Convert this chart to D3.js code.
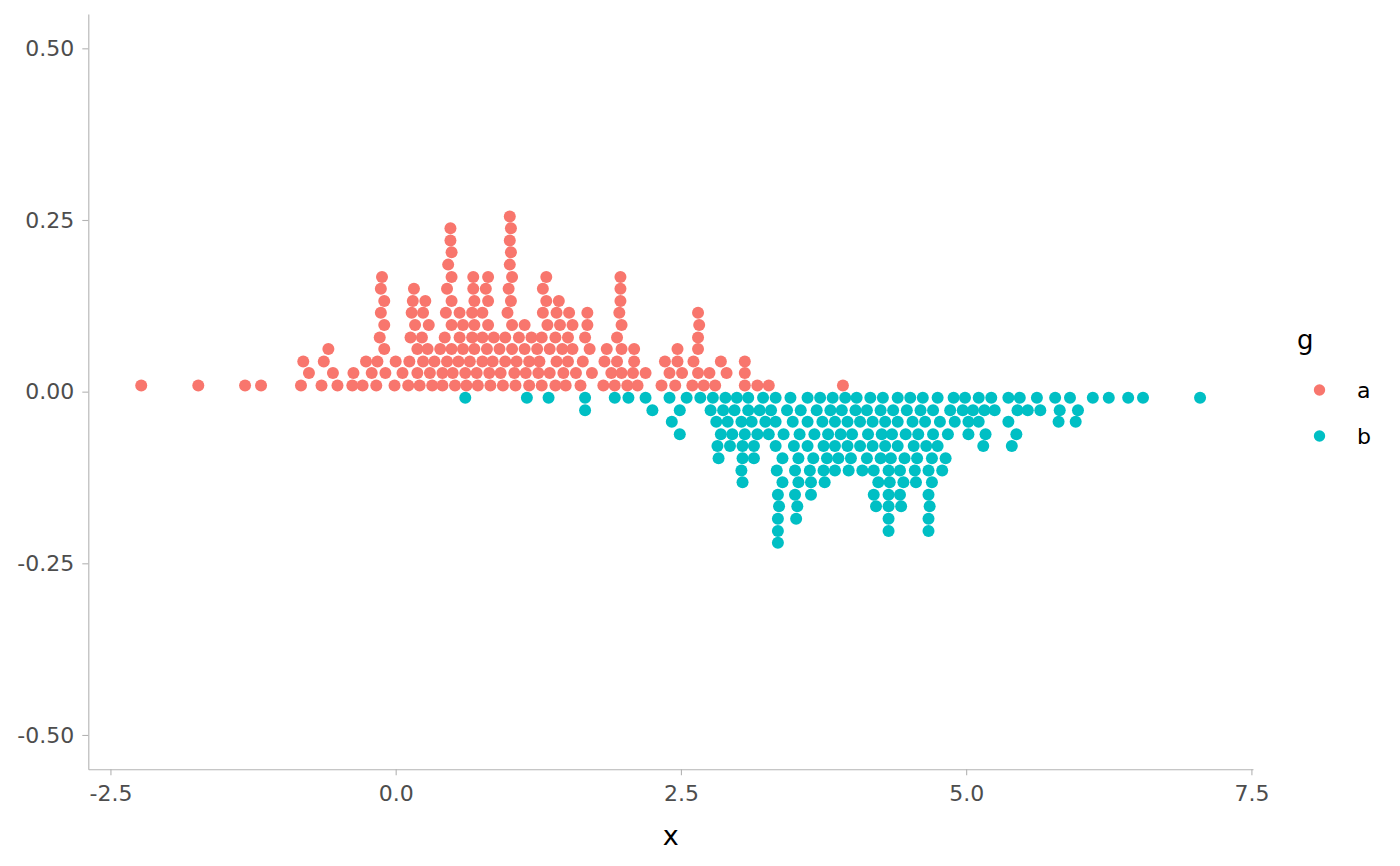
<!DOCTYPE html>
<html>
<head>
<meta charset="utf-8">
<script src="https://cdn.jsdelivr.net/npm/d3@7"></script>
<style>
  body { margin: 0; background: #fff; }
  svg { display: block; }
  text { font-family: "DejaVu Sans", sans-serif; }
</style>
</head>
<body>
<div class="chart"></div>
<script>
// groups and their colours (ggplot default hue palette)
const groups = ["a", "b"]
const colors = ["#F8766D", "#00BFC4"]

const xTicks = [-2.5, 0, 2.5, 5, 7.5]
const yTicks = [-0.5, -0.25, 0, 0.25, 0.5]

// swarm rows of group a: y offset of each row, and the x values sitting in it
const aLevelY = [0.009, 0.027, 0.044, 0.062, 0.079, 0.097, 0.115, 0.132, 0.150, 0.167, 0.185, 0.203, 0.220, 0.238, 0.255]
const aLevelX = [
    [-2.23, -1.73, -1.32, -1.18, -0.83, -0.65, -0.51, -0.38, -0.29, -0.17, -0.01, 0.11, 0.21, 0.32, 0.41, 0.52, 0.62, 0.72, 0.83, 0.94, 1.05, 1.17, 1.28, 1.40, 1.49, 1.62, 1.82, 1.92, 2.03, 2.12, 2.33, 2.45, 2.60, 2.70, 2.80, 3.06, 3.17, 3.27, 3.92],
    [-0.76, -0.55, -0.37, -0.21, -0.09, 0.06, 0.19, 0.30, 0.41, 0.50, 0.61, 0.71, 0.82, 0.92, 1.04, 1.14, 1.25, 1.35, 1.47, 1.58, 1.72, 1.89, 1.98, 2.08, 2.19, 2.40, 2.51, 2.65, 2.75, 2.90, 3.06],
    [-0.81, -0.63, -0.26, -0.16, 0.00, 0.12, 0.24, 0.34, 0.45, 0.55, 0.65, 0.76, 0.85, 0.96, 1.06, 1.17, 1.26, 1.41, 1.51, 1.64, 1.83, 1.94, 2.09, 2.36, 2.47, 2.61, 2.85, 3.06],
    [-0.59, -0.10, 0.19, 0.28, 0.39, 0.49, 0.59, 0.69, 0.80, 0.91, 1.02, 1.13, 1.24, 1.35, 1.46, 1.55, 1.70, 1.85, 1.98, 2.09, 2.47, 2.65],
    [-0.14, 0.13, 0.23, 0.43, 0.56, 0.67, 0.76, 0.86, 0.96, 1.08, 1.19, 1.28, 1.40, 1.51, 1.66, 1.94, 2.65],
    [-0.10, 0.17, 0.29, 0.49, 0.59, 0.69, 0.81, 1.02, 1.13, 1.33, 1.44, 1.55, 1.68, 1.98, 2.66],
    [-0.13, 0.14, 0.24, 0.44, 0.56, 0.67, 0.76, 0.98, 1.29, 1.41, 1.52, 1.68, 1.96, 2.65],
    [-0.10, 0.15, 0.26, 0.49, 0.69, 0.81, 1.01, 1.32, 1.43, 1.97],
    [-0.13, 0.16, 0.45, 0.68, 0.79, 0.99, 1.29, 1.97],
    [-0.12, 0.49, 0.68, 0.81, 1.02, 1.32, 1.97],
    [0.46, 1.00],
    [0.49, 1.01],
    [0.48, 1.00],
    [0.48, 1.01],
    [1.00]
]

// swarm rows of group b (below zero)
const bLevelY = [-0.009, -0.027, -0.044, -0.062, -0.079, -0.097, -0.115, -0.132, -0.150, -0.167, -0.185, -0.203, -0.220]
const bLevelX = [
    [0.61, 1.15, 1.34, 1.66, 1.92, 2.04, 2.19, 2.40, 2.55, 2.67, 2.78, 2.89, 2.99, 3.09, 3.22, 3.33, 3.46, 3.61, 3.72, 3.83, 3.94, 4.04, 4.16, 4.27, 4.40, 4.51, 4.62, 4.75, 4.89, 4.99, 5.11, 5.22, 5.37, 5.47, 5.62, 5.78, 5.91, 6.11, 6.25, 6.42, 6.55, 7.05],
    [1.66, 2.25, 2.49, 2.76, 2.87, 2.97, 3.09, 3.19, 3.29, 3.43, 3.55, 3.69, 3.81, 3.91, 4.03, 4.13, 4.25, 4.36, 4.48, 4.60, 4.71, 4.86, 4.97, 5.06, 5.16, 5.25, 5.45, 5.54, 5.65, 5.82, 5.98],
    [2.42, 2.81, 2.91, 3.03, 3.12, 3.24, 3.33, 3.48, 3.61, 3.74, 3.85, 3.96, 4.07, 4.18, 4.29, 4.40, 4.53, 4.64, 4.77, 4.90, 5.02, 5.11, 5.37, 5.81, 5.96],
    [2.49, 2.85, 2.95, 3.06, 3.17, 3.27, 3.40, 3.54, 3.67, 3.79, 3.90, 4.00, 4.14, 4.26, 4.35, 4.47, 4.58, 4.71, 4.84, 5.02, 5.17, 5.44],
    [2.82, 2.93, 3.04, 3.14, 3.33, 3.49, 3.61, 3.75, 3.85, 3.96, 4.07, 4.18, 4.29, 4.40, 4.54, 4.65, 4.75, 5.15, 5.40],
    [2.83, 3.04, 3.14, 3.39, 3.53, 3.66, 3.78, 3.88, 3.99, 4.13, 4.25, 4.34, 4.46, 4.57, 4.70, 4.82],
    [3.03, 3.34, 3.50, 3.63, 3.75, 3.85, 3.97, 4.09, 4.19, 4.32, 4.42, 4.55, 4.67, 4.79],
    [3.04, 3.39, 3.53, 3.64, 3.76, 4.23, 4.33, 4.45, 4.56, 4.70],
    [3.35, 3.50, 3.64, 4.19, 4.32, 4.42, 4.67],
    [3.36, 3.52, 4.21, 4.32, 4.43, 4.68],
    [3.35, 3.51, 4.32, 4.67],
    [3.35, 4.32, 4.67],
    [3.35]
]

const width = 1400
const height = 866
const panel = { left: 88.3, right: 1253, top: 14, bottom: 769.3 }
const radius = 6

// flatten the rows into one list of points
function rowsToPoints(g, levelY, levelX) {
    return levelX.flatMap((xs, i) => xs.map(x => ({ g, x, y: levelY[i] })))
}
const points = rowsToPoints("a", aLevelY, aLevelX).concat(rowsToPoints("b", bLevelY, bLevelX))

const color = d3.scaleOrdinal().domain(groups).range(colors)

// ggplot style 5% expansion of the data range
const xExtent = d3.extent(points, d => d.x)
const xPad = (xExtent[1] - xExtent[0]) * 0.05
const x = d3.scaleLinear()
    .domain([xExtent[0] - xPad, xExtent[1] + xPad])
    .range([panel.left, panel.right])

const y = d3.scaleLinear()
    .domain([-0.55, 0.55])
    .range([panel.bottom, panel.top])

const svg = d3.select(".chart")
    .append("svg")
    .attr("width", width)
    .attr("height", height)

// axes
svg.append("g")
    .attr("transform", "translate(0," + panel.bottom + ")")
    .call(d3.axisBottom(x)
        .tickValues(xTicks)
        .tickFormat(d => d.toFixed(1))
        .tickSizeInner(6)
        .tickSizeOuter(0)
        .tickPadding(10))

svg.append("g")
    .attr("transform", "translate(" + panel.left + ",0)")
    .call(d3.axisLeft(y)
        .tickValues(yTicks)
        .tickFormat(d => d.toFixed(2))
        .tickSizeInner(6)
        .tickSizeOuter(0)
        .tickPadding(8))

svg.selectAll(".domain, .tick line")
    .attr("stroke", "#B3B3B3")
    .attr("stroke-width", 1.1)

svg.selectAll(".tick text")
    .attr("fill", "#4D4D4D")
    .style("font-size", "22px")

// the points
svg.append("g")
    .selectAll("circle")
    .data(points)
    .enter().append("circle")
    .attr("cx", d => x(d.x))
    .attr("cy", d => y(d.y))
    .attr("r", radius)
    .attr("fill", d => color(d.g))

// axis title
svg.append("text")
    .attr("x", (panel.left + panel.right) / 2)
    .attr("y", 845)
    .attr("text-anchor", "middle")
    .style("font-size", "27px")
    .text("x")

// legend
const legend = svg.append("g")
    .attr("transform", "translate(1298,0)")

legend.append("text")
    .attr("x", -1)
    .attr("y", 349)
    .style("font-size", "26px")
    .text("g")

const keys = legend.selectAll(".key")
    .data(groups)
    .enter().append("g")
    .attr("class", "key")
    .attr("transform", (d, i) => "translate(0," + (390 + i * 46) + ")")

keys.append("circle")
    .attr("cx", 21.5)
    .attr("r", 5.7)
    .attr("fill", d => color(d))

keys.append("text")
    .attr("x", 59)
    .attr("y", 8)
    .style("font-size", "22px")
    .text(d => d)
</script>
</body>
</html>
